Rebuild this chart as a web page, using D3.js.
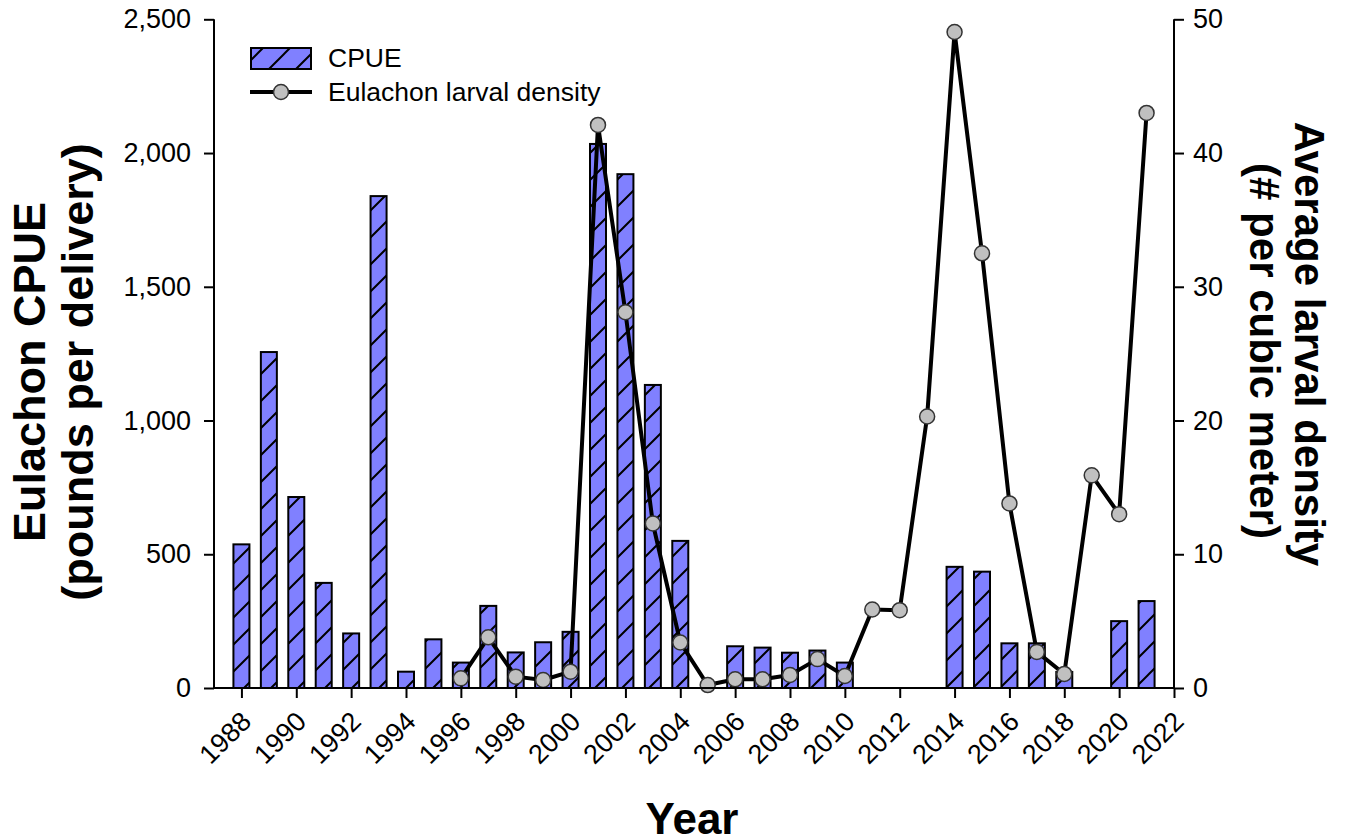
<!DOCTYPE html>
<html>
<head>
<meta charset="utf-8">
<script src="https://cdn.jsdelivr.net/npm/d3@7"></script>
<style>
  html, body { margin: 0; padding: 0; background: #fff; }
  svg { display: block; font-family: "Liberation Sans", Arial, sans-serif; }
</style>
</head>
<body>
<svg id="chart" width="1349" height="839"></svg>
<script>
// Eulachon fishery CPUE (bars) and larval density (line), by year
const cpueYears = [1988, 1989, 1990, 1991, 1992, 1993, 1994, 1995, 1996, 1997, 1998, 1999,
                   2000, 2001, 2002, 2003, 2004, 2006, 2007, 2008, 2009, 2010,
                   2014, 2015, 2016, 2017, 2018, 2020, 2021];
const cpueValues = [537, 1256, 714, 393, 204, 1839, 61, 182, 95, 307, 133, 171,
                    210, 2034, 1921, 1133, 550, 156, 151, 132, 140, 95,
                    453, 435, 167, 167, 60, 250, 325];

const densityYears = [1996, 1997, 1998, 1999, 2000, 2001, 2002, 2003, 2004, 2005, 2006, 2007,
                      2008, 2009, 2010, 2011, 2012, 2013, 2014, 2015, 2016, 2017, 2018, 2019,
                      2020, 2021];
const densityValues = [0.72, 3.79, 0.85, 0.6, 1.22, 42.1, 28.1, 12.3, 3.4, 0.22, 0.65, 0.65,
                       0.97, 2.16, 0.9, 5.87, 5.82, 20.3, 49.05, 32.5, 13.8, 2.7, 1.05, 15.9,
                       13.0, 43.0];

const yearTicks = [1988, 1990, 1992, 1994, 1996, 1998, 2000, 2002, 2004, 2006, 2008, 2010,
                   2012, 2014, 2016, 2018, 2020, 2022];
const cpueTicks = [0, 500, 1000, 1500, 2000, 2500];
const densityTicks = [0, 10, 20, 30, 40, 50];

const seriesNames = ["CPUE", "Eulachon larval density"];

const svg = d3.select("#chart");

const plotL = 214, plotR = 1174, plotT = 19.3, plotB = 688;

const x = d3.scaleLinear().domain([1987, 2022]).range([plotL, plotR]);
const yL = d3.scaleLinear().domain([0, 2500]).range([plotB, plotT]);
const yR = d3.scaleLinear().domain([0, 50]).range([plotB, plotT]);

// diagonal hatch for the bars
const defs = svg.append("defs");
const pat = defs.append("pattern")
  .attr("id", "hatch")
  .attr("patternUnits", "userSpaceOnUse")
  .attr("width", 27).attr("height", 27)
  .attr("patternTransform", "translate(14,0)");
pat.append("rect").attr("width", 27).attr("height", 27).attr("fill", "#8080ff");
pat.append("path")
  .attr("d", "M-2,2 L2,-2 M0,27 L27,0 M25,29 L29,25")
  .attr("stroke", "#000").attr("stroke-width", 2).attr("fill", "none");

const barW = 16;

// bars
svg.append("g").selectAll("rect")
  .data(cpueYears.map((yr, i) => ({ yr, v: cpueValues[i] })))
  .join("rect")
  .attr("x", d => x(d.yr) - barW / 2)
  .attr("y", d => yL(d.v))
  .attr("width", barW)
  .attr("height", d => yL(0) - yL(d.v))
  .attr("fill", "url(#hatch)")
  .attr("stroke", "#000")
  .attr("stroke-width", 2);

// density line and markers
const dens = densityYears.map((yr, i) => ({ yr, v: densityValues[i] }));
svg.append("path")
  .datum(dens)
  .attr("d", d3.line().x(d => x(d.yr)).y(d => yR(d.v)))
  .attr("fill", "none")
  .attr("stroke", "#000")
  .attr("stroke-width", 4)
  .attr("stroke-linejoin", "round");

svg.append("g").selectAll("circle")
  .data(dens)
  .join("circle")
  .attr("cx", d => x(d.yr))
  .attr("cy", d => yR(d.v))
  .attr("r", 7.5)
  .attr("fill", "#c0c0c0")
  .attr("stroke", "#333")
  .attr("stroke-width", 1.5);

// axes
const tickFont = "27px";

const axL = svg.append("g")
  .attr("transform", `translate(${plotL},0)`)
  .call(d3.axisLeft(yL).tickValues(cpueTicks).tickFormat(d3.format(",")).tickSize(10).tickPadding(13));
const axR = svg.append("g")
  .attr("transform", `translate(${plotR},0)`)
  .call(d3.axisRight(yR).tickValues(densityTicks).tickFormat(d3.format("d")).tickSize(10).tickPadding(9));
const axB = svg.append("g")
  .attr("transform", `translate(0,${plotB})`)
  .call(d3.axisBottom(x).tickValues(yearTicks).tickFormat(d3.format("d")).tickSize(10));

[axL, axR, axB].forEach(g => {
  g.select(".domain").attr("stroke", "#000").attr("stroke-width", 2);
  g.selectAll(".tick line").attr("stroke", "#000").attr("stroke-width", 2);
  g.selectAll("text").attr("font-size", tickFont).attr("fill", "#000")
    .attr("font-family", "'Liberation Sans', Arial, sans-serif");
});
// plain spines without the outer ticks
axL.select(".domain").attr("d", `M0,${plotT}V${plotB}`);
axR.select(".domain").attr("d", `M0,${plotT}V${plotB}`);
axB.select(".domain").attr("d", `M${plotL},0H${plotR}`);

axB.selectAll(".tick text")
  .attr("text-anchor", "end")
  .attr("dy", 0)
  .attr("y", 0)
  .attr("transform", "translate(11,35) rotate(-45)");

// axis titles
svg.append("text")
  .attr("transform", "translate(45,372) rotate(-90)")
  .attr("text-anchor", "middle")
  .attr("font-size", "45px").attr("font-weight", "bold")
  .text("Eulachon CPUE");
svg.append("text")
  .attr("transform", "translate(93,372) rotate(-90)")
  .attr("text-anchor", "middle")
  .attr("font-size", "45px").attr("font-weight", "bold")
  .text("(pounds per delivery)");

svg.append("text")
  .attr("transform", "translate(1295,344) rotate(90)")
  .attr("text-anchor", "middle")
  .attr("font-size", "42px").attr("font-weight", "bold")
  .text("Average larval density");
svg.append("text")
  .attr("transform", "translate(1250,351) rotate(90)")
  .attr("text-anchor", "middle")
  .attr("font-size", "42px").attr("font-weight", "bold")
  .text("(# per cubic meter)");

svg.append("text")
  .attr("x", 692)
  .attr("y", 834)
  .attr("text-anchor", "middle")
  .attr("font-size", "44px").attr("font-weight", "bold")
  .text("Year");

// legend
const lg = svg.append("g");
lg.append("rect")
  .attr("x", 251).attr("y", 48).attr("width", 60).attr("height", 21)
  .attr("fill", "url(#hatch)").attr("stroke", "#000").attr("stroke-width", 2);
lg.append("line")
  .attr("x1", 250).attr("x2", 312).attr("y1", 92).attr("y2", 92)
  .attr("stroke", "#000").attr("stroke-width", 4);
lg.append("circle")
  .attr("cx", 281).attr("cy", 92).attr("r", 7.5)
  .attr("fill", "#c0c0c0").attr("stroke", "#333").attr("stroke-width", 1.5);
lg.selectAll("text.lab")
  .data(seriesNames)
  .join("text")
  .attr("class", "lab")
  .attr("x", 328)
  .attr("y", (d, i) => i === 0 ? 58 : 92)
  .attr("dy", "0.35em")
  .attr("font-size", "26.5px")
  .text(d => d);
</script>
</body>
</html>
